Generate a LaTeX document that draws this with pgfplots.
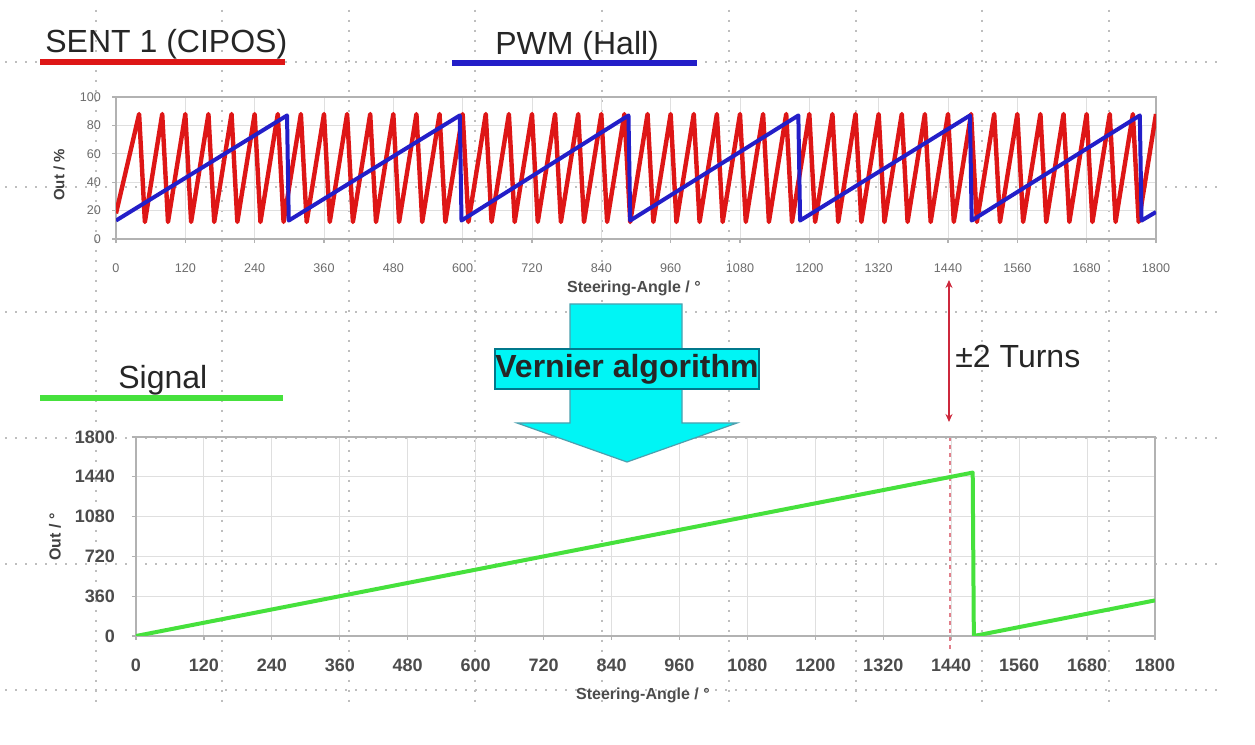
\documentclass[border=0pt]{standalone}
\usepackage{fontspec}
\setmainfont{Liberation Sans}
\usepackage{pgfplots}
\pgfplotsset{compat=1.18}
\usetikzlibrary{arrows.meta}
\definecolor{sentred}{RGB}{222,22,22}
\definecolor{pwmblue}{RGB}{35,30,200}
\definecolor{siggreen}{RGB}{70,225,60}
\definecolor{vcyan}{RGB}{0,245,245}
\definecolor{vedge}{RGB}{0,120,140}
\definecolor{guide}{RGB}{190,190,190}
\definecolor{turnred}{RGB}{205,40,60}
\begin{document}
\begin{tikzpicture}
\useasboundingbox[fill=white] (0,0) rectangle (627.5pt,372.5pt);
% slide guide lines
\begin{scope}[x=0.5pt,y=0.5pt]
\foreach \gx in {96,222,349,475,602,729,856,982,1109}
  \draw[guide, line width=0.9pt, dash pattern=on 1pt off 4pt] (\gx,745-10) -- (\gx,745-705);
\foreach \gy in {62,187,312,438,564,690}
  \draw[guide, line width=0.9pt, dash pattern=on 1pt off 4pt] (5,745-\gy) -- (1220,745-\gy);
\draw[turnred!60, line width=1pt, dash pattern=on 2pt off 2pt] (950,745-437) -- (950,745-650);
\end{scope}

% ---------- top axis ----------
\begin{axis}[
  at={(58pt,253pt)}, anchor=south west, scale only axis,
  width=520pt, height=71pt,
  xmin=0, xmax=1800, ymin=0, ymax=100,
  xtick={0,120,...,1800}, ytick={0,20,...,100},
  xtick pos=lower, ytick pos=left,
  grid=major, major grid style={gray!25, line width=0.5pt},
  axis line style={gray!60, line width=0.9pt},
  tick style={gray!60, line width=0.6pt}, tick align=outside, major tick length=2pt,
  ticklabel style={font=\fontsize{6.3}{7}\selectfont, text=gray!85!black},
  xticklabel style={yshift=-7pt}, yticklabel style={xshift=-2pt},
  /pgf/number format/assume math mode=true,
  /pgf/number format/set thousands separator={},
  xlabel={Steering-Angle / °}, ylabel={Out / \%},
  xlabel style={at={(axis description cs:0.498,-0.345)}, anchor=center,
    font=\bfseries\fontsize{8}{9}\selectfont, text=black!70},
  ylabel style={at={(axis description cs:-0.0548,0.451)}, anchor=center,
    font=\bfseries\fontsize{7.5}{9}\selectfont, text=black!75},
]
\addplot[sentred, line width=2.2pt, line join=round] coordinates {
(0,18)(40,88)(50,12)(80,88)(90,12)(120,88)(130,12)(160,88)(170,12)(200,88)(210,12)
(240,88)(250,12)(280,88)(290,12)(320,88)(330,12)(360,88)(370,12)(400,88)(410,12)
(440,88)(450,12)(480,88)(490,12)(520,88)(530,12)(560,88)(570,12)(600,88)(610,12)
(640,88)(650,12)(680,88)(690,12)(720,88)(730,12)(760,88)(770,12)(800,88)(810,12)
(840,88)(850,12)(880,88)(890,12)(920,88)(930,12)(960,88)(970,12)(1000,88)(1010,12)
(1040,88)(1050,12)(1080,88)(1090,12)(1120,88)(1130,12)(1160,88)(1170,12)(1200,88)(1210,12)
(1240,88)(1250,12)(1280,88)(1290,12)(1320,88)(1330,12)(1360,88)(1370,12)(1400,88)(1410,12)
(1440,88)(1450,12)(1480,88)(1490,12)(1520,88)(1530,12)(1560,88)(1570,12)(1600,88)(1610,12)
(1640,88)(1650,12)(1680,88)(1690,12)(1720,88)(1730,12)(1760,88)(1770,12)(1800,88)
};
\addplot[pwmblue, line width=2pt, line join=round] coordinates {
(0,13)(296,87)(299,13)(595,87)(598,13)(887,87)(890,13)(1181,87)(1184,13)
(1478,87)(1481,13)(1772,87)(1775,13)(1800,19)
};
\end{axis}

% ---------- bottom axis ----------
\begin{axis}[
  at={(68pt,54.5pt)}, anchor=south west, scale only axis,
  width=509.5pt, height=99.5pt,
  xmin=0, xmax=1800, ymin=0, ymax=1800,
  xtick={0,120,...,1800}, ytick={0,360,...,1800},
  xtick pos=lower, ytick pos=left,
  grid=major, major grid style={gray!25, line width=0.5pt},
  axis line style={gray!60, line width=0.9pt},
  tick style={gray!60, line width=0.6pt}, tick align=outside, major tick length=2pt,
  ticklabel style={font=\bfseries\fontsize{9}{10}\selectfont, text=black!70},
  xticklabel style={yshift=-6pt}, yticklabel style={xshift=-5pt},
  /pgf/number format/assume math mode=true,
  /pgf/number format/set thousands separator={},
  xlabel={Steering-Angle / °}, ylabel={Out / °},
  xlabel style={at={(axis description cs:0.4975,-0.296)}, anchor=center,
    font=\bfseries\fontsize{8}{9}\selectfont, text=black!70},
  ylabel style={at={(axis description cs:-0.0795,0.497)}, anchor=center,
    font=\bfseries\fontsize{8}{9}\selectfont, text=black!75},
]
\addplot[siggreen, line width=2pt, line join=round] coordinates {
(0,0)(1478,1478)(1480,0)(1800,322)
};
\end{axis}

% ---------- annotations ----------
\begin{scope}[x=0.5pt,y=0.5pt]
\node[anchor=base west, inner sep=0, font=\fontsize{16}{19}\selectfont, text=black!85] at (45,745-53) {SENT 1 (CIPOS)};
\draw[sentred, line width=3pt] (40,745-62) -- (285,745-62);
\node[anchor=base west, inner sep=0, font=\fontsize{16}{19}\selectfont, text=black!85] at (495,745-55) {PWM (Hall)};
\draw[pwmblue, line width=3pt] (452,745-63) -- (697,745-63);
\node[anchor=base west, inner sep=0, font=\fontsize{16}{19}\selectfont, text=black!85] at (118,745-389) {Signal};
\draw[siggreen, line width=3pt] (40,745-398) -- (283,745-398);
\node[anchor=base west, inner sep=0, font=\fontsize{16}{19}\selectfont, text=black!85] at (955,745-368) {±2 Turns};
\draw[turnred, line width=0.9pt, {Stealth[length=4pt,width=3.5pt]}-{Stealth[length=4pt,width=3.5pt]}] (949,745-280) -- (949,745-422);
% Vernier arrow
\filldraw[fill=vcyan, draw=vedge!70, line width=0.6pt] (570,745-304) -- (682,745-304) -- (682,745-423) -- (737,745-423) -- (627,745-462) -- (517,745-423) -- (570,745-423) -- cycle;
\filldraw[fill=vcyan, draw=vedge, line width=0.8pt] (495,745-349) rectangle (759,745-389);
\node[inner sep=0, font=\bfseries\fontsize{16}{19}\selectfont, text=black!85] at (627,745-369) {Vernier algorithm};
\end{scope}
\end{tikzpicture}
\end{document}
